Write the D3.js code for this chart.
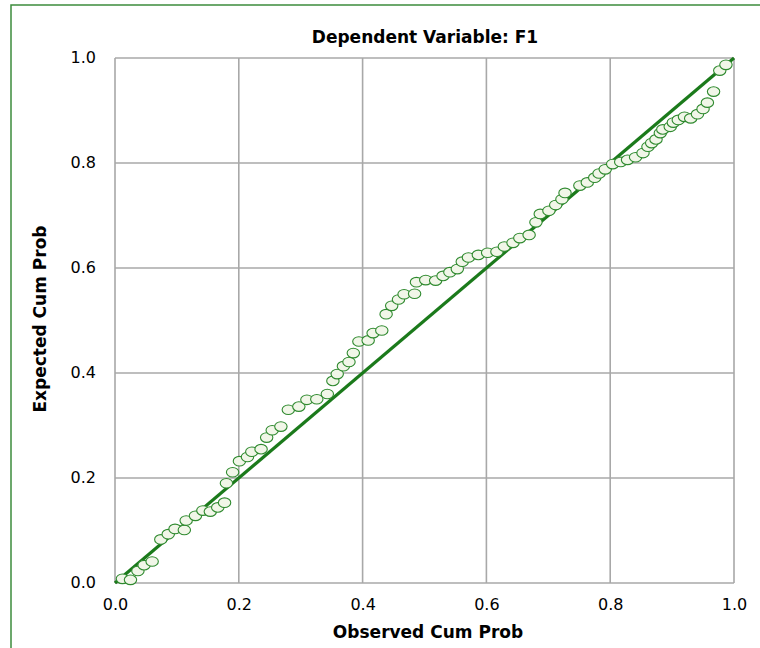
<!DOCTYPE html>
<html>
<head>
<meta charset="utf-8">
<script src="https://cdn.jsdelivr.net/npm/d3@7"></script>
<style>
  body { margin: 0; background: #fff; }
  text { font-family: "DejaVu Sans", sans-serif; fill: #000; }
</style>
</head>
<body>
<div id="chart"></div>
<script>
// P-P plot data (observed vs expected cumulative probability)
var observed = [0.012, 0.025, 0.037, 0.047, 0.060, 0.074, 0.086, 0.097, 0.112, 0.115,
  0.130, 0.142, 0.154, 0.166, 0.177, 0.180, 0.190, 0.201, 0.214, 0.221,
  0.236, 0.245, 0.254, 0.268, 0.280, 0.297, 0.310, 0.326, 0.343, 0.352,
  0.359, 0.369, 0.378, 0.385, 0.394, 0.409, 0.417, 0.431, 0.438, 0.447,
  0.458, 0.467, 0.484, 0.487, 0.502, 0.518, 0.530, 0.541, 0.553, 0.561,
  0.571, 0.587, 0.602, 0.617, 0.629, 0.643, 0.654, 0.669, 0.680, 0.687,
  0.701, 0.712, 0.722, 0.727, 0.751, 0.763, 0.775, 0.782, 0.792, 0.804,
  0.817, 0.828, 0.841, 0.853, 0.861, 0.867, 0.874, 0.881, 0.885, 0.897,
  0.902, 0.910, 0.920, 0.930, 0.941, 0.950, 0.957, 0.967, 0.977, 0.987];
var expected = [0.008, 0.006, 0.023, 0.034, 0.041, 0.083, 0.093, 0.103, 0.101, 0.119,
  0.128, 0.138, 0.136, 0.144, 0.153, 0.190, 0.211, 0.232, 0.240, 0.250,
  0.255, 0.277, 0.291, 0.298, 0.330, 0.336, 0.349, 0.350, 0.360, 0.385,
  0.398, 0.413, 0.421, 0.438, 0.460, 0.462, 0.476, 0.481, 0.512, 0.528,
  0.540, 0.550, 0.551, 0.573, 0.577, 0.576, 0.585, 0.592, 0.598, 0.612,
  0.620, 0.625, 0.629, 0.631, 0.641, 0.648, 0.657, 0.663, 0.687, 0.703,
  0.709, 0.720, 0.731, 0.743, 0.757, 0.763, 0.772, 0.780, 0.788, 0.798,
  0.802, 0.806, 0.811, 0.819, 0.831, 0.838, 0.845, 0.857, 0.864, 0.869,
  0.877, 0.882, 0.888, 0.885, 0.893, 0.903, 0.915, 0.936, 0.976, 0.987];
var refLine = [0, 1];
var tickValues = [0, 0.2, 0.4, 0.6, 0.8, 1.0];

var width = 760, height = 648;
var plot = { left: 115, right: 734, top: 58, bottom: 583 };

var svg = d3.select("#chart").append("svg")
  .attr("width", width)
  .attr("height", height);

// outer green frame (runs off the right and bottom edges)
svg.append("rect")
  .attr("x", 11).attr("y", 5)
  .attr("width", 820).attr("height", 720)
  .attr("fill", "none")
  .attr("stroke", "#3c8c3c")
  .attr("stroke-width", 1.5);

var x = d3.scaleLinear().domain([0, 1]).range([plot.left, plot.right]);
var y = d3.scaleLinear().domain([0, 1]).range([plot.bottom, plot.top]);

// grid lines
svg.append("g").selectAll("line.vx")
  .data(tickValues)
  .enter().append("line")
  .attr("x1", function(d) { return x(d); })
  .attr("x2", function(d) { return x(d); })
  .attr("y1", plot.top).attr("y2", plot.bottom)
  .attr("stroke", "#a8a8a8").attr("stroke-width", 1.6);

svg.append("g").selectAll("line.hy")
  .data(tickValues)
  .enter().append("line")
  .attr("x1", plot.left).attr("x2", plot.right)
  .attr("y1", function(d) { return y(d); })
  .attr("y2", function(d) { return y(d); })
  .attr("stroke", "#a8a8a8").attr("stroke-width", 1.6);

// axes (labels only)
var xAxis = svg.append("g")
  .attr("transform", "translate(0," + (plot.bottom + 10) + ")")
  .call(d3.axisBottom(x).tickValues(tickValues).tickFormat(d3.format(".1f")).tickSize(0));
xAxis.select(".domain").remove();
xAxis.selectAll("text").style("font-size", "16px").attr("dy", "0.9em");

var yAxis = svg.append("g")
  .attr("transform", "translate(" + (plot.left - 19) + ",0)")
  .call(d3.axisLeft(y).tickValues(tickValues).tickFormat(d3.format(".1f")).tickSize(0));
yAxis.select(".domain").remove();
yAxis.selectAll("text").style("font-size", "16px").attr("x", 0).attr("dy", "0.3em");

// reference line
svg.append("line")
  .attr("x1", x(refLine[0])).attr("y1", y(refLine[0]))
  .attr("x2", x(refLine[1])).attr("y2", y(refLine[1]))
  .attr("stroke", "#1b7a1b")
  .attr("stroke-width", 3.2);

// points
var pts = observed.map(function(d, i) { return { o: d, e: expected[i] }; });
svg.append("g").selectAll("ellipse")
  .data(pts)
  .enter().append("ellipse")
  .attr("cx", function(d) { return x(d.o); })
  .attr("cy", function(d) { return y(d.e); })
  .attr("rx", 6.2).attr("ry", 4.8)
  .attr("fill", "#f1f6e8")
  .attr("stroke", "#2f8a2f")
  .attr("stroke-width", 1.1);

// titles
svg.append("text")
  .attr("x", 425).attr("y", 43)
  .attr("text-anchor", "middle")
  .style("font-size", "17px").style("font-weight", "bold")
  .text("Dependent Variable: F1");

svg.append("text")
  .attr("x", 428).attr("y", 638)
  .attr("text-anchor", "middle")
  .style("font-size", "17px").style("font-weight", "bold")
  .text("Observed Cum Prob");

svg.append("text")
  .attr("transform", "translate(46,319) rotate(-90)")
  .attr("text-anchor", "middle")
  .style("font-size", "17px").style("font-weight", "bold")
  .text("Expected Cum Prob");
</script>
</body>
</html>
